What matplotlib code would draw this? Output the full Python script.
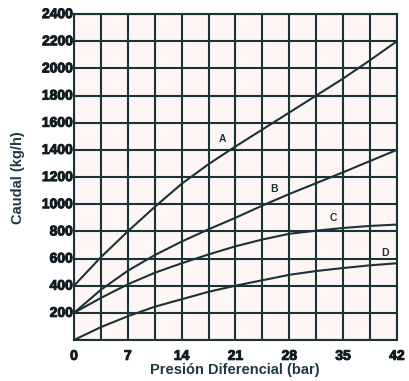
import matplotlib.pyplot as plt
import matplotlib.patheffects as pe
from matplotlib.ticker import MultipleLocator

# -------- Data --------
presion = [0, 3.5, 7, 10.5, 14, 17.5, 21, 24.5, 28, 31.5, 35, 38.5, 42]
caudal_a = [400, 610, 800, 980, 1150, 1295, 1425, 1550, 1675, 1800, 1925, 2060, 2200]
caudal_b = [200, 370, 510, 625, 725, 815, 900, 990, 1075, 1155, 1235, 1318, 1400]
caudal_c = [200, 310, 410, 495, 565, 630, 690, 740, 782, 805, 825, 840, 850]
caudal_d = [0, 95, 175, 245, 300, 355, 400, 440, 480, 508, 530, 550, 565]

curve_names = ["A", "B", "C", "D"]
label_pos = [(19.3, 1480), (26.0, 1110), (33.7, 895), (40.5, 640)]

x_ticks = [0, 7, 14, 21, 28, 35, 42]
y_ticks = [200, 400, 600, 800, 1000, 1200, 1400, 1600, 1800, 2000, 2200, 2400]

# -------- Style --------
INK = "#1a3338"
BG = "#fdf6f4"
LW = 1.5

fig = plt.figure(figsize=(4.10, 3.81), dpi=100)
fig.patch.set_facecolor("white")
ax = fig.add_axes([0.1805, 0.1076, 0.7875, 0.8554])
ax.set_facecolor(BG)

# grid
ax.xaxis.set_major_locator(MultipleLocator(3.5))
ax.yaxis.set_major_locator(MultipleLocator(200))
ax.grid(True, color=INK, linewidth=LW)
ax.set_axisbelow(True)

# curves
for series in [caudal_a, caudal_b, caudal_c, caudal_d]:
    ax.plot(presion, series, color=INK, linewidth=LW)

for name, (lx, ly) in zip(curve_names, label_pos):
    ax.text(lx, ly, name, color=INK, fontsize=7.5, fontweight="bold",
            ha="center", va="center", family=["Liberation Sans", "DejaVu Sans"])

ax.set_xlim(0, 42)
ax.set_ylim(0, 2400)

for sp in ax.spines.values():
    sp.set_color(INK)
    sp.set_linewidth(LW)

# tick labels drawn as text so the grid can stay on 3.5 steps
ax.set_xticklabels([])
ax.set_yticklabels([])
ax.tick_params(length=0)

heavy = [pe.withStroke(linewidth=0.7, foreground="#111c20")]
tick_font = dict(fontsize=10, fontweight="bold", color="#111c20",
                 family=["Liberation Sans", "DejaVu Sans"], path_effects=heavy)
for xv in x_ticks:
    ax.text(xv, -65, str(xv), ha="center", va="top", **tick_font)
for yv in y_ticks:
    ax.text(-0.15, yv, str(yv), ha="right", va="center", **tick_font)

label_font = dict(fontsize=10.5, fontweight="bold", color="#1d3a44",
                  family=["Liberation Sans Narrow", "Liberation Sans", "DejaVu Sans"])
fig.text(0.573, 0.028, "Presión Diferencial (bar)", ha="center", va="center", **label_font)
fig.text(0.045, 0.535, "Caudal (kg/h)", ha="center", va="center",
         rotation=90, **label_font)

plt.savefig("out.png", dpi=100)
plt.close()
